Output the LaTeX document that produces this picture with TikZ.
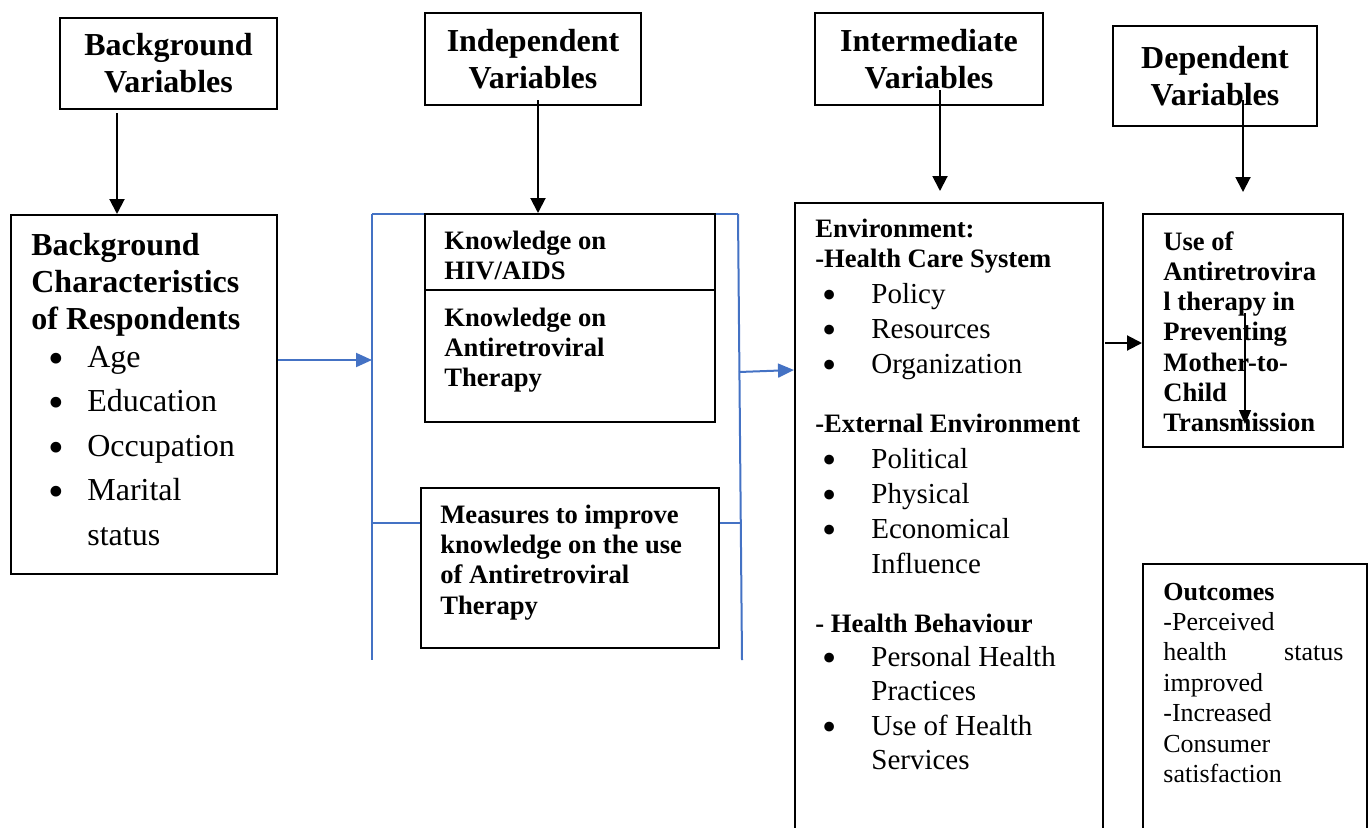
\documentclass[tikz,border=0pt]{standalone}
\usepackage{fontspec}
\setmainfont{Liberation Serif}
\usetikzlibrary{arrows.meta}

\tikzset{every picture/.style={line width=0.75pt}}
\newcommand{\bul}{\raisebox{-0.2em}{\scalebox{1.4}{\textbullet}}}

\begin{document}
\begin{tikzpicture}[x=1pt,y=-1pt,
  box/.style={draw, line width=2pt, inner sep=0pt, anchor=north west},
  hd/.style={font=\fontsize{32}{37}\selectfont\bfseries, align=center},
  txt/.style={anchor=base west, inner sep=0pt},
  arr/.style={line width=2pt, -{Triangle[length=15pt,width=15pt]}},
  bline/.style={draw={rgb,255:red,68;green,114;blue,196}, line width=2pt},
  barr/.style={bline, -{Triangle[length=16pt,width=14pt]}}]
\useasboundingbox (0,0) rectangle (1370,827);

%Header boxes
\node[box, hd, minimum width=217pt, minimum height=91pt] (bv) at (59,17) {Background\\Variables};
\node[box, hd, minimum width=216pt, minimum height=92pt] (iv) at (424,12) {Independent\\Variables};
\node[box, hd, minimum width=228pt, minimum height=92pt] (mv) at (814,12) {Intermediate\\Variables};
\node[box, hd, minimum width=204pt, minimum height=100pt] (dv) at (1112,25) {Dependent\\Variables};

%Main boxes
\node[box, minimum width=266pt, minimum height=359pt] (bc) at (10,214) {};
\node[box, minimum width=290pt, minimum height=208pt] (kn) at (424,213) {};
\node[box, minimum width=298pt, minimum height=160pt] (ms) at (420,487) {};
\node[box, minimum width=308pt, minimum height=640pt] (env) at (794,202) {};
\node[box, minimum width=200pt, minimum height=233pt] (use) at (1142,213) {};
\node[box, minimum width=224pt, minimum height=280pt] (oc) at (1142,563) {};
\draw[line width=2pt] (kn.west |- 0,290) -- (kn.east |- 0,290);

% Text Node
\node[txt, font=\fontsize{32}{37}\selectfont\bfseries] (bct) at (31,255)
  {\begin{tabular}[t]{@{}l@{}}Background\\Characteristics\\of Respondents\end{tabular}};
\node[txt, font=\fontsize{32}{44.5}\selectfont] (bcl) at (48,367)
  {\begin{tabular}[t]{@{}p{39pt}@{}l@{}}\bul&Age\\\bul&Education\\\bul&Occupation\\\bul&Marital\\&status\end{tabular}};
% Text Node
\node[txt, font=\fontsize{26.6}{30.4}\selectfont\bfseries] (knt1) at (444,249)
  {\begin{tabular}[t]{@{}l@{}}Knowledge on\\HIV/AIDS\end{tabular}};
\node[txt, font=\fontsize{26.6}{30.4}\selectfont\bfseries] (knt2) at (444,326)
  {\begin{tabular}[t]{@{}l@{}}Knowledge on\\Antiretroviral\\Therapy\end{tabular}};
\node[txt, font=\fontsize{26.6}{30.4}\selectfont\bfseries] (mst) at (440,523)
  {\begin{tabular}[t]{@{}l@{}}Measures to improve\\knowledge on the use\\of Antiretroviral\\Therapy\end{tabular}};
% Text Node
\node[txt, font=\fontsize{26.6}{30.4}\selectfont\bfseries] (envh1) at (815,237)
  {\begin{tabular}[t]{@{}l@{}}Environment:\\-Health Care System\end{tabular}};
\node[txt, font=\fontsize{29}{35}\selectfont] (envl1) at (822,303)
  {\begin{tabular}[t]{@{}p{49pt}@{}l@{}}\bul&Policy\\\bul&Resources\\\bul&Organization\end{tabular}};
\node[txt, font=\fontsize{26.6}{30.4}\selectfont\bfseries] (envh2) at (815,432) {-External Environment};
\node[txt, font=\fontsize{29}{35}\selectfont] (envl2) at (822,468)
  {\begin{tabular}[t]{@{}p{49pt}@{}l@{}}\bul&Political\\\bul&Physical\\\bul&Economical\\&Influence\end{tabular}};
\node[txt, font=\fontsize{26.6}{30.4}\selectfont\bfseries] (envh3) at (815,632) {- Health Behaviour};
\node[txt, font=\fontsize{29}{34.5}\selectfont] (envl3) at (822,666)
  {\begin{tabular}[t]{@{}p{49pt}@{}l@{}}\bul&Personal Health\\&Practices\\\bul&Use of Health\\&Services\end{tabular}};
% Text Node
\node[txt, font=\fontsize{26.6}{30.3}\selectfont\bfseries] (uset) at (1163,250)
  {\begin{tabular}[t]{@{}l@{}}Use of\\Antiretrovira\\l therapy in\\Preventing\\Mother-to-\\Child\\Transmission\end{tabular}};
\node[txt, font=\fontsize{26}{30.4}\selectfont] (oct) at (1163,600)
  {\begin{tabular}[t]{@{}p{180pt}@{}}\textbf{Outcomes}\\-Perceived\\health\hfill status\\improved\\-Increased\\Consumer\\satisfaction\end{tabular}};

%Straight Lines
\coordinate (bvs) at (117,113);
\coordinate (ivs) at (538,100);
\coordinate (mvs) at (940,90);
\coordinate (mve) at (940,191);
\coordinate (dvs) at (1243,100);
\coordinate (dve) at (1243,192);
\draw[arr] (bvs) -- (bvs |- bc.north);
\draw[arr] (ivs) -- (ivs |- kn.north);
\draw[arr] (mvs) -- (mve);
\draw[arr] (dvs) -- (dve);
\coordinate (envo) at (1105,343);
\draw[arr] (envo) -- (envo -| use.west);
\coordinate (u1) at (1245,313);
\coordinate (u2) at (1245,424);
\draw[line width=1.3pt, -{Triangle[length=14pt,width=12pt]}] (u1) -- (u2);

%Blue bracket
\coordinate (ltop) at (372,214);
\coordinate (lbot) at (372,660);
\coordinate (lmid) at (372,523);
\coordinate (rtop) at (738,214);
\coordinate (rbot) at (742,660);
\coordinate (rmid) at (742,523);
\draw[bline] (ltop) -- (lbot);
\draw[bline] (rtop) -- (rbot);
\draw[bline] (ltop) -- (ltop -| kn.west);
\draw[bline] (kn.east |- rtop) -- (rtop);
\draw[bline] (lmid) -- (lmid -| ms.west);
\draw[bline] (ms.east |- rmid) -- (rmid);
\coordinate (lin) at (372,360);
\draw[barr] (lin -| bc.east) -- (lin);
\coordinate (rout) at (739,372);
\draw[barr] (rout) -- (env.west |- 0,370);

\end{tikzpicture}
\end{document}
